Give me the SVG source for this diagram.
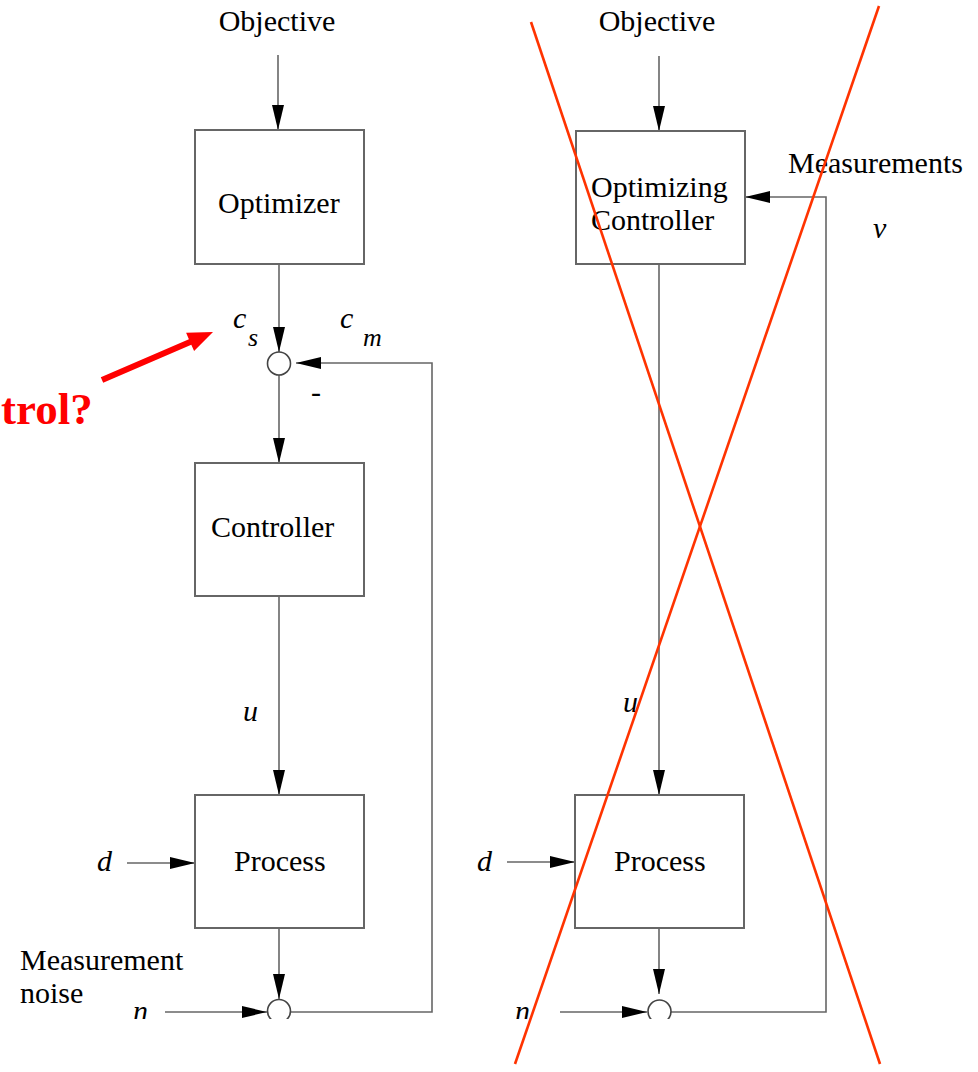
<svg xmlns="http://www.w3.org/2000/svg" width="978" height="1072" viewBox="0 0 978 1072">
<style>
.t{font-family:"Liberation Serif","Times New Roman",serif;font-size:30px;fill:#000}
.i{font-family:"Liberation Serif","Times New Roman",serif;font-style:italic;font-size:30px;fill:#000}
.s{font-family:"Liberation Serif","Times New Roman",serif;font-style:italic;font-size:26px;fill:#000}
.box{fill:none;stroke:#666;stroke-width:2}
.ln{fill:none;stroke:#666;stroke-width:1.6}
.sum{fill:#fff;stroke:#444;stroke-width:1.6}
.x{stroke:#ff3300;stroke-width:2.6;fill:none}
</style>
<defs>
<marker id="ah" markerUnits="userSpaceOnUse" markerWidth="26" markerHeight="12" refX="25" refY="6" orient="auto">
<path d="M0,0 L25,6 L0,12 Z" fill="#000"/>
</marker>
<clipPath id="clip"><rect x="0" y="0" width="978" height="1019"/></clipPath>
</defs>
<rect x="0" y="0" width="978" height="1072" fill="#fff"/>
<g clip-path="url(#clip)">
<g id="connectors">
<line class="ln" x1="278" y1="55" x2="278" y2="130" marker-end="url(#ah)"/>
<line class="ln" x1="279" y1="264" x2="279" y2="352" marker-end="url(#ah)"/>
<polyline class="ln" points="290,1012 432,1012 432,363 296,363" marker-end="url(#ah)"/>
<line class="ln" x1="279" y1="375" x2="279" y2="463" marker-end="url(#ah)"/>
<line class="ln" x1="279" y1="596" x2="279" y2="795" marker-end="url(#ah)"/>
<line class="ln" x1="127" y1="863" x2="195" y2="863" marker-end="url(#ah)"/>
<line class="ln" x1="279" y1="929" x2="279" y2="999" marker-end="url(#ah)"/>
<line class="ln" x1="165" y1="1012" x2="267" y2="1012" marker-end="url(#ah)"/>
<line class="ln" x1="659" y1="56" x2="659" y2="131" marker-end="url(#ah)"/>
<line class="ln" x1="659" y1="264" x2="659" y2="795" marker-end="url(#ah)"/>
<polyline class="ln" points="671,1012 826,1012 826,197 745,197" marker-end="url(#ah)"/>
<line class="ln" x1="507" y1="862" x2="575" y2="862" marker-end="url(#ah)"/>
<line class="ln" x1="659" y1="929" x2="659" y2="994" marker-end="url(#ah)"/>
<line class="ln" x1="560" y1="1012" x2="647" y2="1012" marker-end="url(#ah)"/>
</g>
<g id="objective-left"><text class="t" x="277" y="31" text-anchor="middle">Objective</text></g>
<g id="optimizer"><rect class="box" x="195" y="130" width="169" height="134"/><text class="t" x="218" y="213">Optimizer</text></g>
<g id="sum-top"><circle class="sum" cx="279" cy="363.5" r="11.5"/></g>
<g id="cs"><text class="i" x="233" y="328" font-size="32">c</text><text class="s" x="248" y="346">s</text></g>
<g id="cm"><text class="i" x="340" y="328" font-size="32">c</text><text class="s" x="363" y="346">m</text></g>
<g id="minus"><text class="t" x="316" y="402" text-anchor="middle">-</text></g>
<g id="controller"><rect class="box" x="195" y="463" width="169" height="133"/><text class="t" x="211" y="537">Controller</text></g>
<g id="u-left"><text class="i" x="243" y="721">u</text></g>
<g id="process-left"><rect class="box" x="195" y="795" width="169" height="133"/><text class="t" x="234" y="871">Process</text></g>
<g id="d-left"><text class="i" x="97" y="871">d</text></g>
<g id="noise-label"><text class="t" x="20" y="970">Measurement</text><text class="t" x="20" y="1003">noise</text></g>
<g id="n-left"><text class="i" x="133" y="1021">n</text></g>
<g id="sum-bottom-left"><circle class="sum" cx="279" cy="1011" r="11.5"/></g>
<g id="objective-right"><text class="t" x="657" y="31" text-anchor="middle">Objective</text></g>
<g id="optimizing-controller"><rect class="box" x="576" y="131" width="169" height="133"/><text class="t" x="591" y="197">Optimizing</text><text class="t" x="591" y="230">Controller</text></g>
<g id="measurements"><text class="t" x="788" y="173">Measurements</text></g>
<g id="v"><text class="i" x="873" y="238">v</text></g>
<g id="u-right"><text class="i" x="623" y="712">u</text></g>
<g id="process-right"><rect class="box" x="575" y="795" width="169" height="133"/><text class="t" x="614" y="871">Process</text></g>
<g id="d-right"><text class="i" x="477" y="871">d</text></g>
<g id="n-right"><text class="i" x="515" y="1021">n</text></g>
<g id="sum-bottom-right"><circle class="sum" cx="659.5" cy="1011.5" r="11.5"/></g>
</g>
<g id="annotation">
<text x="1" y="424" font-family="Liberation Serif, Times New Roman, serif" font-weight="bold" font-size="45" fill="#f00">trol?</text>
<polygon fill="#f00" points="100.8,377.3 188.9,339.2 186.1,332.7 213,332 194.1,351.1 191.3,344.7 103.2,382.8"/>
</g>
<g id="cross">
<line class="x" x1="531" y1="22" x2="880" y2="1064"/>
<line class="x" x1="879" y1="6" x2="515" y2="1064"/>
</g>
</svg>
